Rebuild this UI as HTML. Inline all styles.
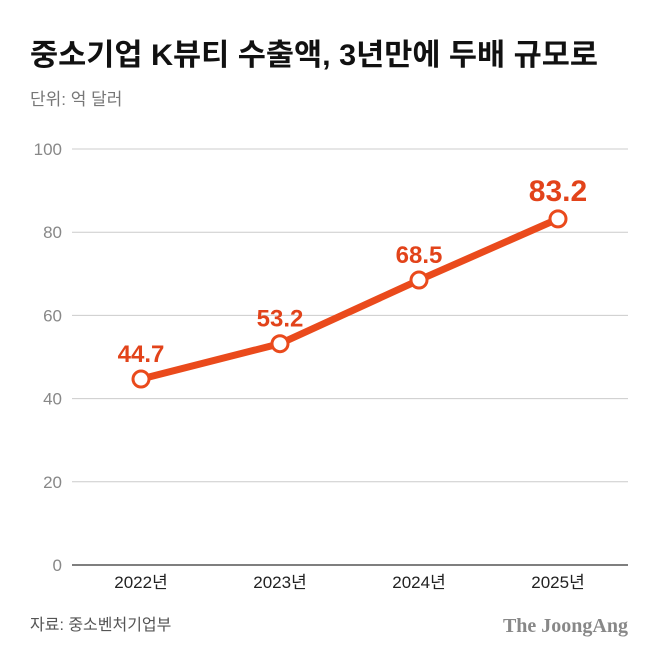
<!DOCTYPE html>
<html><head><meta charset="utf-8"><style>
body{margin:0;width:658px;height:658px;background:#fff;overflow:hidden;font-family:"Liberation Sans","Noto Sans CJK KR",sans-serif;}
svg{display:block}
</style></head><body>
<svg width="658" height="658" id="c">
<text x="30" y="65" font-size="30" font-weight="bold" fill="#111" textLength="568" lengthAdjust="spacingAndGlyphs" font-family="Liberation Sans, Noto Sans CJK KR, sans-serif">중소기업 K뷰티 수출액, 3년만에 두배 규모로</text>
<text x="30" y="105" font-size="17" fill="#777" font-family="Liberation Sans, Noto Sans CJK KR, sans-serif">단위: 억 달러</text>
<text x="30" y="630" font-size="16" fill="#555" font-family="Liberation Sans, Noto Sans CJK KR, sans-serif">자료: 중소벤처기업부</text>
<text x="628" y="632" font-size="20" font-weight="bold" fill="#888" text-anchor="end" font-family="Liberation Serif, serif">The JoongAng</text>
<g id="grid"></g><g id="marks"></g>
</svg>
<script>
const categories=["2022년","2023년","2024년","2025년"];
const values=[44.7,53.2,68.5,83.2];
const yTicks=[0,20,40,60,80,100];
const ns="http://www.w3.org/2000/svg";
const y=v=>565-v*4.16;
const x=i=>141+i*139;
const F="Liberation Sans, Noto Sans CJK KR, sans-serif";
function mk(t,a,p){const e=document.createElementNS(ns,t);for(const k in a)e.setAttribute(k,a[k]);p.appendChild(e);return e;}
const g=document.getElementById('grid'),m=document.getElementById('marks');
yTicks.forEach(v=>{
 const l=mk('line',{x1:72,x2:628,y1:y(v),y2:y(v),stroke:v===0?'#555':'#ccc','stroke-width':v===0?1.5:1},g);
 
 
 const t=mk('text',{x:62,y:y(v)+6,'font-size':17,fill:'#888','text-anchor':'end','font-family':F},g);
 t.textContent=v;
 
 
});
categories.forEach((c,i)=>{
 const t=mk('text',{x:x(i),y:588,'font-size':17,fill:'#222','text-anchor':'middle','font-family':F},g);
 t.textContent=c;
 
 
});
const pl=mk('polyline',{points:values.map((v,i)=>x(i)+','+y(v)).join(' '),fill:'none',stroke:'#ea4a1c','stroke-width':7,'stroke-linejoin':'round'},m);


values.forEach((v,i)=>{
 const c=mk('circle',{cx:x(i),cy:y(v),r:8,fill:'#fff',stroke:'#ea4a1c','stroke-width':3},m);
 
 
 const last=i===values.length-1;
 const t=mk('text',{x:x(i),y:y(v)-(last?18:17),'font-size':last?30:24,'font-weight':'bold',fill:'#e2431a','text-anchor':'middle','font-family':F},m);
 t.textContent=v.toFixed(1);
 
 
});
</script>
</body></html>
